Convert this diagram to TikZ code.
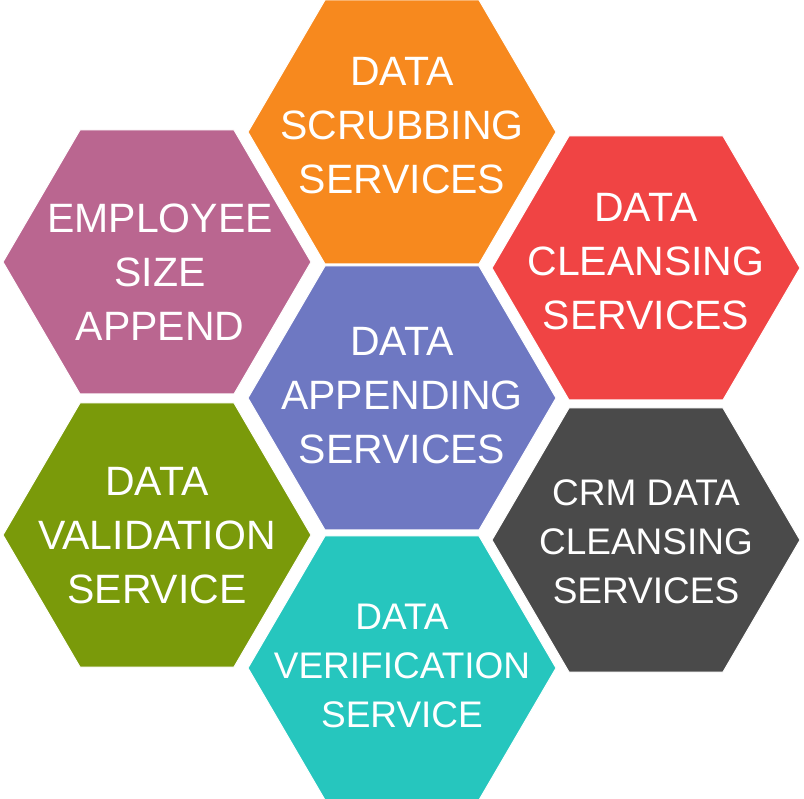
\documentclass[tikz,border=0pt]{standalone}
\usepackage{fontspec}
\setmainfont{Liberation Sans}
\definecolor{corange}{HTML}{F7891E}
\definecolor{cred}{HTML}{F04444}
\definecolor{cdark}{HTML}{4A4A4A}
\definecolor{cteal}{HTML}{26C6BE}
\definecolor{cgreen}{HTML}{7A9A0A}
\definecolor{cpink}{HTML}{BA6690}
\definecolor{cblue}{HTML}{6E78C2}
\tikzset{lbl/.style={text=white,align=center,font=\fontsize{41}{54}\selectfont,inner sep=0pt},
lblsmall/.style={lbl,font=\fontsize{37}{49}\selectfont},
hexpath/.style={draw=white,line width=1pt}}
\newcommand{\hexat}[3]{\fill[#1,hexpath] (#2-154,#3) -- (#2-77,#3-132) -- (#2+77,#3-132) -- (#2+154,#3) -- (#2+77,#3+132) -- (#2-77,#3+132) -- cycle;}
\begin{document}
\begin{tikzpicture}[x=1pt,y=-1pt]
\useasboundingbox (0,0) rectangle (804,799);
\hexat{corange}{402}{132}
\hexat{cred}{646}{268}
\hexat{cdark}{646}{540}
\hexat{cteal}{402}{668}
\hexat{cgreen}{157}{535}
\hexat{cpink}{157}{262}
\hexat{cblue}{402}{398}
\node[lbl] (scrub) at (402,126) {DATA\\SCRUBBING\\SERVICES};
\node[lbl] (cleanse) at (646,262) {DATA\\CLEANSING\\SERVICES};
\node[lblsmall] (crm) at (646,542) {CRM DATA\\CLEANSING\\SERVICES};
\node[lblsmall] (verif) at (402,666) {DATA\\VERIFICATION\\SERVICE};
\node[lbl] (valid) at (157,536) {DATA\\VALIDATION\\SERVICE};
\node[lbl] (emp) at (160,272) {EMPLOYEE\\SIZE\\APPEND};
\node[lbl] (app) at (402,396) {DATA\\APPENDING\\SERVICES};
\end{tikzpicture}
\end{document}
